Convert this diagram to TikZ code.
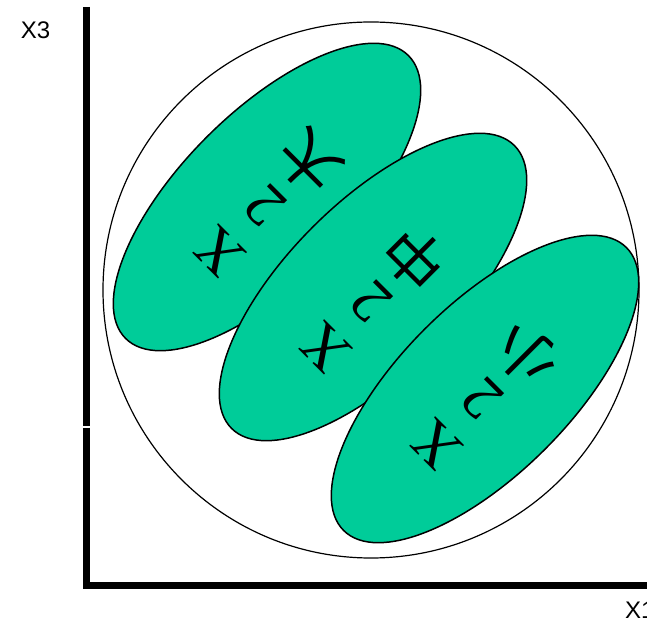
\documentclass[tikz,border=0pt]{standalone}
\usepackage{fontspec}
\setmainfont{Liberation Sans}
\newfontfamily\serfont{Liberation Serif}
\newfontfamily\cjk{Noto Sans CJK SC}
\usetikzlibrary{shapes.geometric}
\definecolor{blobgreen}{RGB}{0,204,153}
\tikzset{
  blob/.style={ellipse, draw=black, line width=1.5pt, fill=blobgreen,
    minimum width=400pt, minimum height=170pt, inner sep=0pt, rotate=45},
  blobtext/.style={align=center, rotate=135, inner sep=0pt,
    font=\fontsize{60}{65}\selectfont},
  axis/.style={line width=7pt},
  axlabel/.style={font=\fontsize{24}{28}\selectfont, inner sep=0pt}
}
\begin{document}
\begin{tikzpicture}[x=1pt,y=1pt]
\useasboundingbox (0,0) rectangle (647,623);
% axes
\coordinate (vtop) at (86.5,616);
\coordinate (vgapa) at (86.5,196.6);
\coordinate (vgapb) at (86.5,195.4);
\coordinate (vbot) at (86.5,33.5);
\coordinate (hleft) at (83,37);
\coordinate (hright) at (647,37);
\draw[axis] (vtop) -- (vgapa);
\draw[axis] (vgapb) -- (vbot);
\draw[axis] (hleft) -- (hright);
\node[axlabel] (x3) at (35.5,592.5) {X3};
\node[axlabel, anchor=base west] (x1) at (625,5) {X1};
% big circle
\node[circle, draw=black, line width=1.2pt, minimum size=536pt, inner sep=0pt] (big) at (371,333) {};
% ellipses
\node[blob] (e1) at (267,426) {};
\node[blob] (e2) at (373,336) {};
\node[blob] (e3) at (485,234) {};
% texts
\node[blobtext] (t1) at (267,419) {{\serfont X}\\{\serfont 2}\\{\cjk 大}};
\node[blobtext] (t2) at (373,323) {{\serfont X}\\{\serfont 2}\\{\cjk 中}};
\node[blobtext] (t3) at (484,226) {{\serfont X}\\{\serfont 2}\\{\cjk 小}};
\end{tikzpicture}
\end{document}
